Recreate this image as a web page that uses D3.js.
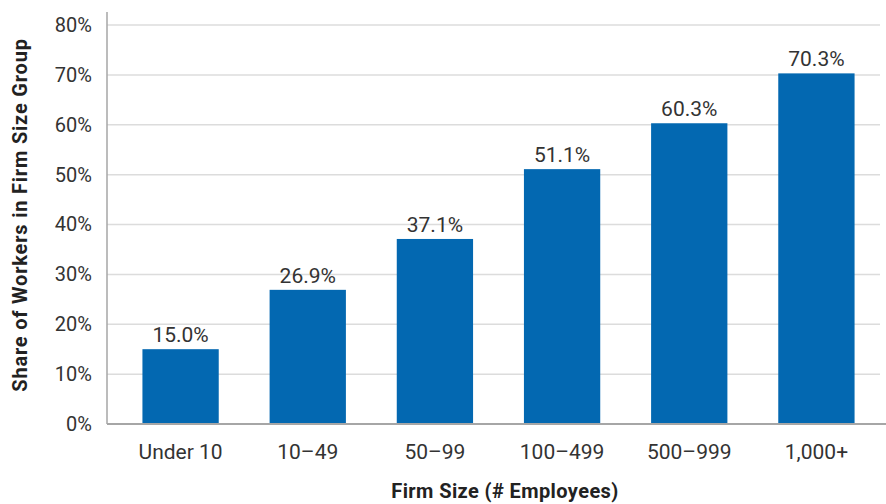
<!DOCTYPE html>
<html>
<head>
<meta charset="utf-8">
<script src="https://cdn.jsdelivr.net/npm/d3@7"></script>
<style>
  html, body { margin: 0; padding: 0; background: #fff; }
  svg text { font-family: "Roboto", "Liberation Sans", sans-serif; }
</style>
</head>
<body>
<svg id="chart" width="886" height="504"></svg>
<script>
// Share of workers by firm size
const categories = ["Under 10", "10\u201349", "50\u201399", "100\u2013499", "500\u2013999", "1,000+"];
const shares = [15.0, 26.9, 37.1, 51.1, 60.3, 70.3];
const yTicks = [0, 10, 20, 30, 40, 50, 60, 70, 80];

const svg = d3.select("#chart");
const plot = { left: 107, right: 880, top: 25, bottom: 424 };

const x = d3.scaleBand()
  .domain(categories)
  .range([117, plot.right])
  .paddingInner(0.4)
  .paddingOuter(0.2);

const y = d3.scaleLinear()
  .domain([0, 80])
  .range([plot.bottom, plot.top]);

// Horizontal gridlines
svg.append("g")
  .selectAll("line")
  .data(yTicks.filter(d => d > 0))
  .join("line")
  .attr("x1", plot.left)
  .attr("x2", plot.right)
  .attr("y1", d => y(d))
  .attr("y2", d => y(d))
  .attr("stroke", "#dcdcdc")
  .attr("stroke-width", 1.5);

// Y axis tick labels
const yAxis = d3.axisLeft(y)
  .tickValues(yTicks)
  .tickFormat(d => d + "%")
  .tickSize(0)
  .tickPadding(15);

const gy = svg.append("g")
  .attr("transform", `translate(${plot.left},0)`)
  .call(yAxis);
gy.select(".domain").remove();
gy.selectAll("text")
  .attr("font-size", 20)
  .attr("fill", "#333")
  .style("font-family", "Roboto, sans-serif");

// Vertical axis line
svg.append("line")
  .attr("x1", plot.left).attr("x2", plot.left)
  .attr("y1", 12).attr("y2", plot.bottom)
  .attr("stroke", "#a6a6a6")
  .attr("stroke-width", 1.5);

// Bars
svg.append("g")
  .selectAll("rect")
  .data(shares)
  .join("rect")
  .attr("x", (d, i) => x(categories[i]))
  .attr("width", x.bandwidth())
  .attr("y", d => y(d))
  .attr("height", d => y(0) - y(d))
  .attr("fill", "#0368b1");

// Value labels
svg.append("g")
  .selectAll("text")
  .data(shares)
  .join("text")
  .attr("x", (d, i) => x(categories[i]) + x.bandwidth() / 2)
  .attr("y", d => y(d) - 7)
  .attr("text-anchor", "middle")
  .attr("font-size", 21)
  .attr("fill", "#333")
  .text(d => d.toFixed(1) + "%");

// Baseline
svg.append("line")
  .attr("x1", plot.left).attr("x2", plot.right + 6)
  .attr("y1", plot.bottom).attr("y2", plot.bottom)
  .attr("stroke", "#a6a6a6")
  .attr("stroke-width", 2);

// X axis category labels
const xAxis = d3.axisBottom(x).tickSize(0).tickPadding(20);
const gx = svg.append("g")
  .attr("transform", `translate(0,${plot.bottom})`)
  .call(xAxis);
gx.select(".domain").remove();
gx.selectAll("text")
  .attr("font-size", 21)
  .attr("fill", "#333")
  .style("font-family", "Roboto, sans-serif");

// Axis titles
svg.append("text")
  .attr("x", 505)
  .attr("y", 498)
  .attr("text-anchor", "middle")
  .attr("font-size", 20)
  .attr("font-weight", "bold")
  .attr("letter-spacing", 0.4)
  .attr("fill", "#222")
  .text("Firm Size (# Employees)");

svg.append("text")
  .attr("transform", `translate(27,215) rotate(-90)`)
  .attr("text-anchor", "middle")
  .attr("font-size", 20)
  .attr("font-weight", "bold")
  .attr("letter-spacing", 0.8)
  .attr("fill", "#222")
  .text("Share of Workers in Firm Size Group");
</script>
</body>
</html>
